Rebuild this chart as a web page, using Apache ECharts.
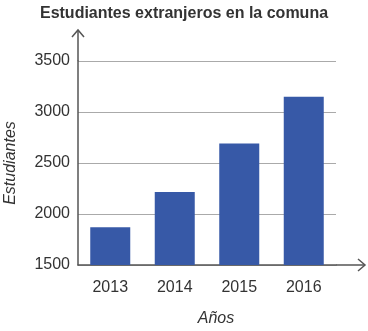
<!DOCTYPE html>
<html><head><meta charset="utf-8">
<script src="https://cdn.jsdelivr.net/npm/echarts@6/dist/echarts.min.js"></script>
<style>html,body{margin:0;padding:0;background:#fff}#c{width:368px;height:331px}</style>
</head><body><div id="c"></div>
<script>
const title = 'Estudiantes extranjeros en la comuna';
const categories = ['2013', '2014', '2015', '2016'];
const students = [1870, 2215, 2690, 3150];
const yMin = 1500, yMax = 3500, yStep = 500;
const xName = 'Años', yName = 'Estudiantes';

const chart = echarts.init(document.getElementById('c'), null, {renderer: 'canvas'});
const axisColor = '#555';
const font = 'Liberation Sans, Arial, sans-serif';
chart.setOption({
  animation: false,
  title: {text: title, left: 'center', top: 1,
    textStyle: {fontFamily: font, fontSize: 16, fontWeight: 'bold', color: '#333'}},
  grid: {left: 78, right: 32, top: 61, bottom: 66, containLabel: false, outerBoundsMode: 'none'},
  xAxis: {type: 'category', data: categories,
    axisLine: {lineStyle: {color: axisColor, width: 1.5}},
    axisTick: {show: false},
    axisLabel: {fontFamily: font, fontSize: 16, color: '#333', margin: 15},
    name: xName, nameLocation: 'middle', nameGap: 46,
    nameTextStyle: {fontFamily: font, fontSize: 16, fontStyle: 'italic', color: '#333', padding: [0, 0, 0, 18]}
  },
  yAxis: {type: 'value', min: yMin, max: yMax, interval: yStep,
    axisLine: {show: true, lineStyle: {color: axisColor, width: 1.5}},
    axisTick: {show: false},
    splitLine: {lineStyle: {color: '#aaa', width: 1}},
    axisLabel: {fontFamily: font, fontSize: 16, color: '#333', margin: 8, formatter: v => String(v)},
    name: yName, nameLocation: 'middle', nameGap: 59, nameRotate: 90,
    nameTextStyle: {fontFamily: font, fontSize: 16, fontStyle: 'italic', color: '#333'}
  },
  series: [{type: 'bar', data: students, barWidth: 40,
    itemStyle: {color: '#3759a7'}}]
});
const originPx = chart.convertToPixel({xAxisIndex: 0, yAxisIndex: 0}, [0, yMin]);
const topPx = chart.convertToPixel({yAxisIndex: 0}, yMax);
const y0 = originPx[1];
chart.setOption({graphic: [
  {type: 'line', shape: {x1: 78, y1: topPx, x2: 78, y2: 30}, style: {stroke: axisColor, lineWidth: 1.5}, z: 100},
  {type: 'polyline', shape: {points: [[72, 37], [78, 30], [84, 37]]}, style: {stroke: axisColor, lineWidth: 1.5, fill: null}, z: 100},
  {type: 'line', shape: {x1: 336, y1: y0, x2: 365, y2: y0}, style: {stroke: axisColor, lineWidth: 1.5}, z: 100},
  {type: 'polyline', shape: {points: [[358, y0 - 6], [365, y0], [358, y0 + 6]]}, style: {stroke: axisColor, lineWidth: 1.5, fill: null}, z: 100}
]});
</script></body></html>
